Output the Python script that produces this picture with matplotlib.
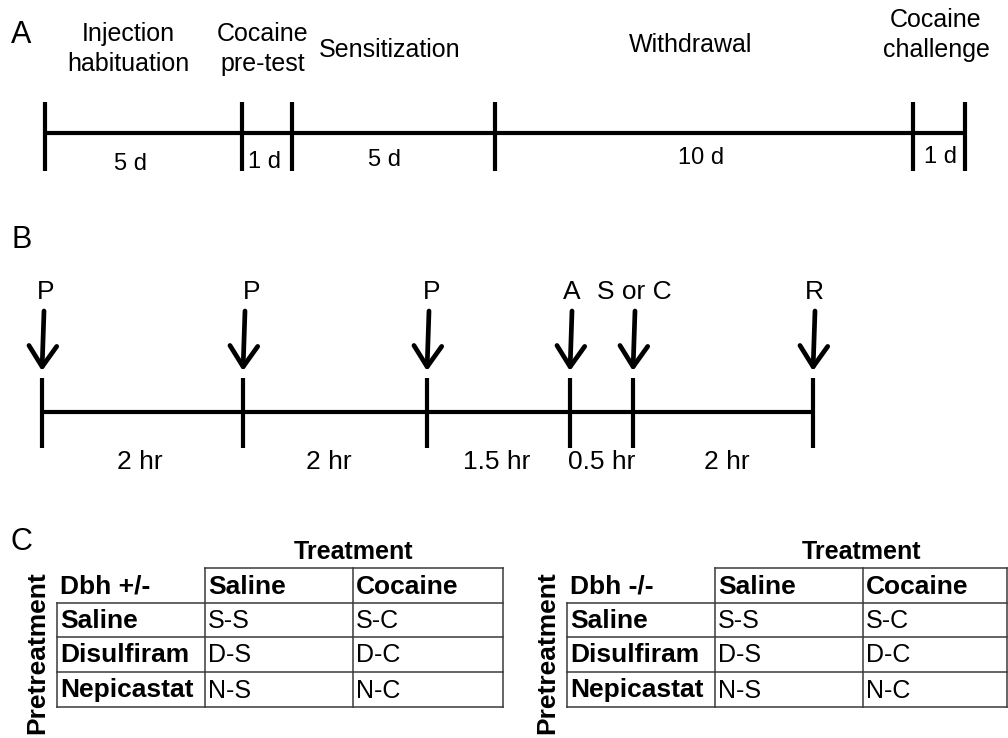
import matplotlib
matplotlib.use("Agg")
import matplotlib.pyplot as plt

plt.rcParams['font.family'] = ['Liberation Sans', 'DejaVu Sans']

# Panel A: experimental phases
phase_names = ["Injection\nhabituation", "Cocaine\npre-test", "Sensitization",
               "Withdrawal", "Cocaine\nchallenge"]
phase_days = [5, 1, 5, 10, 1]

# Panel B: injection schedule on the test day
event_labels = ["P", "P", "P", "A", "S or C", "R"]
gap_hours = [2, 2, 1.5, 0.5, 2]

# Panel C: treatment groups
genotypes = ["Dbh +/-", "Dbh -/-"]
treatments = ["Saline", "Cocaine"]
pretreatments = ["Saline", "Disulfiram", "Nepicastat"]
group_codes = [["S-S", "S-C"], ["D-S", "D-C"], ["N-S", "N-C"]]

# layout (pixel coordinates of the drawing)
a_ticks = [45, 242, 292, 495, 913, 965]
a_y = 133
a_name_xy = [(128, 49), (263, 49), (390, 50), (691, 45), (936, 35)]
a_dur_xy = [(131, 164), (265, 162), (385, 160), (701, 158), (940, 157)]

b_ticks = [42, 243, 427, 570, 633, 813]
b_y = 412
b_label_x = [46, 252, 432, 572, 634, 814]
b_dur_x = [140, 329, 497, 602, 727]

table_cols = [[57, 205, 353, 503], [567, 715, 863, 1007]]
table_rows = [568, 603, 637, 672, 707]

fig = plt.figure(figsize=(10.08, 7.38), dpi=100)
ax = fig.add_axes([0, 0, 1, 1])
ax.set_xlim(0, 1008)
ax.set_ylim(738, 0)
ax.axis('off')

lw_main = 3.0

###---------###
### PANEL A ###
###---------###
ax.text(11, 35, "A", fontsize=22, va='center', ha='left')
ax.plot([a_ticks[0], a_ticks[-1]], [a_y, a_y], color='black', lw=lw_main,
        solid_capstyle='butt')
for x in a_ticks:
    ax.plot([x, x], [102, 171], color='black', lw=lw_main, solid_capstyle='butt')
for name, (x, y) in zip(phase_names, a_name_xy):
    ax.text(x, y, name, fontsize=18, ha='center', va='center', linespacing=1.3)
for d, (x, y) in zip(phase_days, a_dur_xy):
    ax.text(x, y, f"{d} d", fontsize=17, ha='center', va='center')

###---------###
### PANEL B ###
###---------###
ax.text(11, 240, "B", fontsize=22, va='center', ha='left')
ax.plot([b_ticks[0], b_ticks[-1]], [b_y, b_y], color='black', lw=lw_main,
        solid_capstyle='butt')
for x in b_ticks:
    ax.plot([x, x], [378, 448], color='black', lw=lw_main, solid_capstyle='butt')
    ax.annotate('', xy=(x, 371), xytext=(x + 2, 311),
                arrowprops=dict(arrowstyle='->,head_length=0.75,head_width=0.5',
                                lw=3.4, color='black', mutation_scale=20,
                                shrinkA=0, shrinkB=0))
for lab, x in zip(event_labels, b_label_x):
    ax.text(x, 292, lab, fontsize=19, ha='center', va='center')
for h, x in zip(gap_hours, b_dur_x):
    ax.text(x, 462, f"{h:g} hr", fontsize=19, ha='center', va='center')

###---------###
### PANEL C ###
###---------###
ax.text(11, 542, "C", fontsize=22, va='center', ha='left')
line_kw = dict(color='#3a3a3a', lw=1.1)
for geno, cols in zip(genotypes, table_cols):
    left, c1, c2, right = cols
    top, r1, r2, r3, bottom = table_rows
    # header row has no frame on its left cell
    ax.plot([c1, right], [top, top], **line_kw)
    for y in [r1, r2, r3, bottom]:
        ax.plot([left, right], [y, y], **line_kw)
    ax.plot([left, left], [r1, bottom], **line_kw)
    for x in [c1, c2, right]:
        ax.plot([x, x], [top, bottom], **line_kw)

    ax.text((c1 + right) / 2, 552, "Treatment", fontsize=18, weight='bold',
            ha='center', va='center')
    ax.text(left - 20, 653, "Pretreatment", fontsize=19, weight='bold',
            ha='center', va='center', rotation=90)

    ax.text(left + 3, (top + r1) / 2 + 1, geno, fontsize=19, weight='bold',
            ha='left', va='center')
    for j, t in enumerate(treatments):
        ax.text(cols[j + 1] + 3, (top + r1) / 2 + 1, t, fontsize=19,
                weight='bold', ha='left', va='center')
    for i, p in enumerate(pretreatments):
        yc = (table_rows[i + 1] + table_rows[i + 2]) / 2 + 1
        ax.text(left + 3, yc, p, fontsize=19, weight='bold', ha='left', va='center')
        for j in range(2):
            ax.text(cols[j + 1] + 3, yc, group_codes[i][j], fontsize=18,
                    ha='left', va='center')

fig.savefig('out.png', dpi=100, facecolor='white')
